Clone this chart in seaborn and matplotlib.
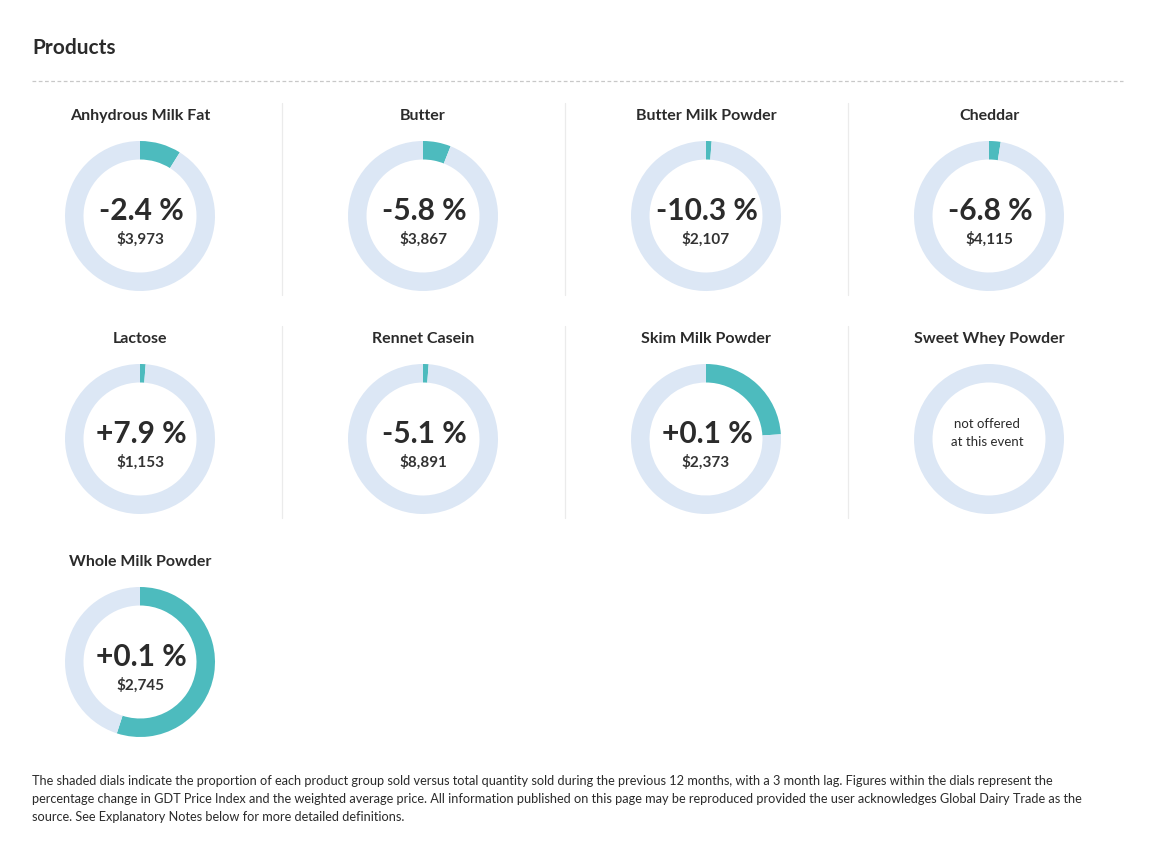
import matplotlib
matplotlib.use("Agg")
import matplotlib.pyplot as plt
import seaborn as sns

products = ["Anhydrous Milk Fat", "Butter", "Butter Milk Powder", "Cheddar",
            "Lactose", "Rennet Casein", "Skim Milk Powder", "Sweet Whey Powder",
            "Whole Milk Powder"]
pct_change = ["-2.4 %", "-5.8 %", "-10.3 %", "-6.8 %",
              "+7.9 %", "-5.1 %", "+0.1 %", None, "+0.1 %"]
avg_price = ["$3,973", "$3,867", "$2,107", "$4,115",
             "$1,153", "$8,891", "$2,373", None, "$2,745"]
share_sold = [0.089, 0.06, 0.012, 0.025, 0.012, 0.012, 0.24, 0.0, 0.55]

sns.set_theme(style="white")
plt.rcParams['font.family'] = ['Lato', 'DejaVu Sans']

TEAL = "#4DBBBE"
LIGHT = "#DCE7F5"
TXT = "#2B2B2B"

W, H = 1152, 844
fig = plt.figure(figsize=(W / 100, H / 100), dpi=100)
fig.patch.set_facecolor("white")

def fx(x):
    return x / W

def fy(y):
    return 1 - y / H

# title and dashed rule
fig.text(fx(32), fy(48), "Products", fontsize=15, fontweight="bold",
         color=TXT, va="center", ha="left")
base = fig.add_axes([0, 0, 1, 1])
base.set_xlim(0, W)
base.set_ylim(H, 0)
base.axis("off")
base.plot([32, 1123], [81, 81], ls=(0, (3, 2)), color="#C8C8C8", lw=0.9)

col_x = [140, 423, 706, 989]
row_y = [216, 439, 662]
title_off = -100
R_OUT = 75
RING = 18.5

for i, name in enumerate(products):
    r, c = divmod(i, 4)
    cx, cy = col_x[c], row_y[r]
    fig.text(fx(cx), fy(cy + title_off), name, fontsize=11.5, fontweight="bold",
             color=TXT, ha="center", va="center")
    ax = fig.add_axes([fx(cx - R_OUT), fy(cy + R_OUT), 2 * R_OUT / W, 2 * R_OUT / H])
    s = share_sold[i]
    ax.pie([s, 1 - s], startangle=90, counterclock=False,
           colors=[TEAL, LIGHT], radius=1,
           wedgeprops=dict(width=RING / R_OUT, linewidth=0))
    ax.set_xlim(-1, 1)
    ax.set_ylim(-1, 1)
    ax.set_aspect("equal")
    ax.axis("off")
    if pct_change[i] is None:
        fig.text(fx(cx - 2), fy(cy - 15), "not offered", fontsize=9.5, color=TXT,
                 ha="center", va="center")
        fig.text(fx(cx - 2), fy(cy + 3), "at this event", fontsize=9.5, color=TXT,
                 ha="center", va="center")
    else:
        fig.text(fx(cx + 1), fy(cy - 5), pct_change[i], fontsize=21.5,
                 fontweight="bold", color=TXT, ha="center", va="center")
        fig.text(fx(cx), fy(cy + 23), avg_price[i], fontsize=11,
                 fontweight="bold", color="#333333", ha="center", va="center")
    # vertical separators
    if c < 3 and i + 1 < len(products):
        base.plot([cx + 142, cx + 142], [cy - 113, cy + 79], color="#EBEBEB", lw=0.9)

footer = [
    "The shaded dials indicate the proportion of each product group sold versus total quantity sold during the previous 12 months, with a 3 month lag. Figures within the dials represent the",
    "percentage change in GDT Price Index and the weighted average price. All information published on this page may be reproduced provided the user acknowledges Global Dairy Trade as the",
    "source. See Explanatory Notes below for more detailed definitions.",
]
for k, line in enumerate(footer):
    fig.text(fx(32), fy(781 + 18 * k), line, fontsize=9.2, color=TXT,
             ha="left", va="center")

fig.savefig("out.png", dpi=100, facecolor="white")
